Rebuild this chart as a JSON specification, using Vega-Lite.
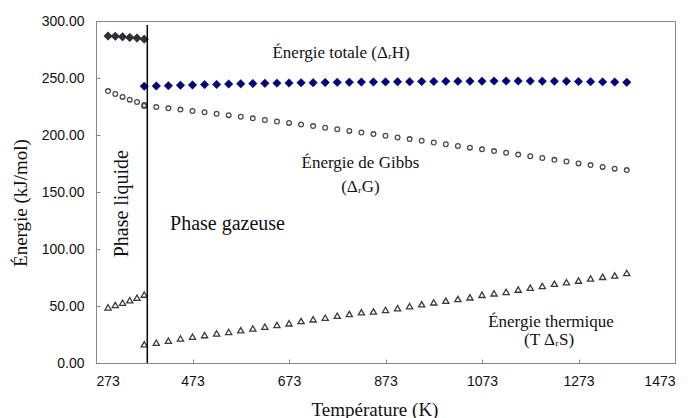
{
  "$schema": "https://vega.github.io/schema/vega-lite/v6.json",
  "width": 579,
  "height": 342,
  "autosize": {"type": "none"},
  "padding": {"left": 96, "top": 21, "right": 16, "bottom": 55},
  "background": "white",
  "config": {
    "view": {"stroke": "#868686", "strokeWidth": 1},
    "axis": {
      "grid": false,
      "domainColor": "#868686",
      "tickColor": "#868686",
      "tickSize": -4,
      "labelFont": "Liberation Sans",
      "labelFontSize": 14,
      "labelColor": "#111111",
      "titleFont": "Liberation Serif",
      "titleFontSize": 19,
      "titleFontWeight": "normal",
      "titleColor": "#111111"
    }
  },
  "datasets": {
    "pts": [
      {"T":298,"E":286.8,"q":"H","p":"L"},{"T":313,"E":286.6,"q":"H","p":"L"},{"T":328,"E":286.1,"q":"H","p":"L"},{"T":343,"E":285.6,"q":"H","p":"L"},{"T":358,"E":285.0,"q":"H","p":"L"},{"T":373,"E":284.1,"q":"H","p":"L"},
      {"T":298,"E":238.5,"q":"G","p":"L"},{"T":313,"E":236.0,"q":"G","p":"L"},{"T":328,"E":233.4,"q":"G","p":"L"},{"T":343,"E":231.0,"q":"G","p":"L"},{"T":358,"E":228.9,"q":"G","p":"L"},{"T":373,"E":226.3,"q":"G","p":"L"},
      {"T":298,"E":48.8,"q":"S","p":"L"},{"T":313,"E":50.9,"q":"S","p":"L"},{"T":328,"E":52.9,"q":"S","p":"L"},{"T":343,"E":55.1,"q":"S","p":"L"},{"T":358,"E":57.3,"q":"S","p":"L"},{"T":373,"E":60.0,"q":"S","p":"L"},
      {"T":373,"E":242.8,"q":"H","p":"G"},{"T":398,"E":243.0,"q":"H","p":"G"},{"T":423,"E":243.3,"q":"H","p":"G"},{"T":448,"E":243.6,"q":"H","p":"G"},{"T":473,"E":243.9,"q":"H","p":"G"},{"T":498,"E":244.2,"q":"H","p":"G"},{"T":523,"E":244.4,"q":"H","p":"G"},{"T":548,"E":244.7,"q":"H","p":"G"},{"T":573,"E":244.9,"q":"H","p":"G"},{"T":598,"E":245.1,"q":"H","p":"G"},{"T":623,"E":245.3,"q":"H","p":"G"},{"T":648,"E":245.5,"q":"H","p":"G"},{"T":673,"E":245.6,"q":"H","p":"G"},{"T":698,"E":245.8,"q":"H","p":"G"},{"T":723,"E":245.9,"q":"H","p":"G"},{"T":748,"E":246.1,"q":"H","p":"G"},{"T":773,"E":246.2,"q":"H","p":"G"},{"T":798,"E":246.3,"q":"H","p":"G"},{"T":823,"E":246.4,"q":"H","p":"G"},{"T":848,"E":246.5,"q":"H","p":"G"},{"T":873,"E":246.6,"q":"H","p":"G"},{"T":898,"E":246.7,"q":"H","p":"G"},{"T":923,"E":246.8,"q":"H","p":"G"},{"T":948,"E":246.9,"q":"H","p":"G"},{"T":973,"E":247.0,"q":"H","p":"G"},{"T":998,"E":247.1,"q":"H","p":"G"},{"T":1023,"E":247.1,"q":"H","p":"G"},{"T":1048,"E":247.2,"q":"H","p":"G"},{"T":1073,"E":247.2,"q":"H","p":"G"},{"T":1098,"E":247.3,"q":"H","p":"G"},{"T":1123,"E":247.3,"q":"H","p":"G"},{"T":1148,"E":247.3,"q":"H","p":"G"},{"T":1173,"E":247.3,"q":"H","p":"G"},{"T":1198,"E":247.2,"q":"H","p":"G"},{"T":1223,"E":247.2,"q":"H","p":"G"},{"T":1248,"E":247.1,"q":"H","p":"G"},{"T":1273,"E":246.9,"q":"H","p":"G"},{"T":1298,"E":246.8,"q":"H","p":"G"},{"T":1323,"E":246.6,"q":"H","p":"G"},{"T":1348,"E":246.4,"q":"H","p":"G"},{"T":1373,"E":246.2,"q":"H","p":"G"},
      {"T":373,"E":225.4,"q":"G","p":"G"},{"T":398,"E":224.5,"q":"G","p":"G"},{"T":423,"E":223.4,"q":"G","p":"G"},{"T":448,"E":222.3,"q":"G","p":"G"},{"T":473,"E":221.1,"q":"G","p":"G"},{"T":498,"E":219.9,"q":"G","p":"G"},{"T":523,"E":218.7,"q":"G","p":"G"},{"T":548,"E":217.4,"q":"G","p":"G"},{"T":573,"E":216.0,"q":"G","p":"G"},{"T":598,"E":214.6,"q":"G","p":"G"},{"T":623,"E":213.2,"q":"G","p":"G"},{"T":648,"E":211.9,"q":"G","p":"G"},{"T":673,"E":210.6,"q":"G","p":"G"},{"T":698,"E":209.2,"q":"G","p":"G"},{"T":723,"E":207.8,"q":"G","p":"G"},{"T":748,"E":206.4,"q":"G","p":"G"},{"T":773,"E":205.0,"q":"G","p":"G"},{"T":798,"E":203.6,"q":"G","p":"G"},{"T":823,"E":202.2,"q":"G","p":"G"},{"T":848,"E":200.8,"q":"G","p":"G"},{"T":873,"E":199.3,"q":"G","p":"G"},{"T":898,"E":197.8,"q":"G","p":"G"},{"T":923,"E":196.4,"q":"G","p":"G"},{"T":948,"E":194.9,"q":"G","p":"G"},{"T":973,"E":193.4,"q":"G","p":"G"},{"T":998,"E":191.9,"q":"G","p":"G"},{"T":1023,"E":190.4,"q":"G","p":"G"},{"T":1048,"E":188.9,"q":"G","p":"G"},{"T":1073,"E":187.4,"q":"G","p":"G"},{"T":1098,"E":185.9,"q":"G","p":"G"},{"T":1123,"E":184.4,"q":"G","p":"G"},{"T":1148,"E":182.8,"q":"G","p":"G"},{"T":1173,"E":181.3,"q":"G","p":"G"},{"T":1198,"E":179.8,"q":"G","p":"G"},{"T":1223,"E":178.2,"q":"G","p":"G"},{"T":1248,"E":176.7,"q":"G","p":"G"},{"T":1273,"E":175.1,"q":"G","p":"G"},{"T":1298,"E":173.6,"q":"G","p":"G"},{"T":1323,"E":172.0,"q":"G","p":"G"},{"T":1348,"E":170.5,"q":"G","p":"G"},{"T":1373,"E":169.2,"q":"G","p":"G"},
      {"T":373,"E":16.4,"q":"S","p":"G"},{"T":398,"E":17.8,"q":"S","p":"G"},{"T":423,"E":19.6,"q":"S","p":"G"},{"T":448,"E":21.6,"q":"S","p":"G"},{"T":473,"E":23.1,"q":"S","p":"G"},{"T":498,"E":24.5,"q":"S","p":"G"},{"T":523,"E":26.0,"q":"S","p":"G"},{"T":548,"E":27.3,"q":"S","p":"G"},{"T":573,"E":28.7,"q":"S","p":"G"},{"T":598,"E":30.3,"q":"S","p":"G"},{"T":623,"E":31.9,"q":"S","p":"G"},{"T":648,"E":33.3,"q":"S","p":"G"},{"T":673,"E":34.8,"q":"S","p":"G"},{"T":698,"E":36.8,"q":"S","p":"G"},{"T":723,"E":38.3,"q":"S","p":"G"},{"T":748,"E":39.8,"q":"S","p":"G"},{"T":773,"E":41.5,"q":"S","p":"G"},{"T":798,"E":43.0,"q":"S","p":"G"},{"T":823,"E":44.5,"q":"S","p":"G"},{"T":848,"E":45.2,"q":"S","p":"G"},{"T":873,"E":46.6,"q":"S","p":"G"},{"T":898,"E":48.1,"q":"S","p":"G"},{"T":923,"E":49.9,"q":"S","p":"G"},{"T":948,"E":51.5,"q":"S","p":"G"},{"T":973,"E":53.2,"q":"S","p":"G"},{"T":998,"E":54.6,"q":"S","p":"G"},{"T":1023,"E":56.1,"q":"S","p":"G"},{"T":1048,"E":57.6,"q":"S","p":"G"},{"T":1073,"E":59.8,"q":"S","p":"G"},{"T":1098,"E":61.1,"q":"S","p":"G"},{"T":1123,"E":62.4,"q":"S","p":"G"},{"T":1148,"E":64.4,"q":"S","p":"G"},{"T":1173,"E":66.0,"q":"S","p":"G"},{"T":1198,"E":67.6,"q":"S","p":"G"},{"T":1223,"E":69.5,"q":"S","p":"G"},{"T":1248,"E":70.9,"q":"S","p":"G"},{"T":1273,"E":72.3,"q":"S","p":"G"},{"T":1298,"E":74.2,"q":"S","p":"G"},{"T":1323,"E":75.6,"q":"S","p":"G"},{"T":1348,"E":76.8,"q":"S","p":"G"},{"T":1373,"E":79.0,"q":"S","p":"G"}
    ],
    "line": [{"T": 379.3, "E": 0, "E2": 296.5}],
    "notes": [
      {"T": 781, "E": 271.5, "t": "Énergie totale (ΔᵣH)", "k": "a"},
      {"T": 821, "E": 175.7, "t": "Énergie de Gibbs", "k": "a"},
      {"T": 821, "E": 154.6, "t": "(ΔᵣG)", "k": "a"},
      {"T": 1216, "E": 36.4, "t": "Énergie thermique", "k": "a"},
      {"T": 1212, "E": 19.8, "t": "(T ΔᵣS)", "k": "a"},
      {"T": 426.4, "E": 121.9, "t": "Phase gazeuse", "k": "g"},
      {"T": 327.5, "E": 139.7, "t": "Phase liquide", "k": "l"}
    ]
  },
  "encoding": {
    "x": {
      "field": "T", "type": "quantitative",
      "scale": {"domain": [273, 1473], "nice": false, "zero": false},
      "axis": {"values": [273, 473, 673, 873, 1073, 1273, 1473], "format": "d", "title": "Température (K)", "labelPadding": 15, "titleX": 278.5, "titleY": 52, "titleBaseline": "alphabetic", "titleAnchor": null, "titleAlign": "center"}
    },
    "y": {
      "field": "E", "type": "quantitative",
      "scale": {"domain": [0, 300], "nice": false, "zero": true},
      "axis": {"values": [0, 50, 100, 150, 200, 250, 300], "format": ".2f", "title": "Énergie (kJ/mol)", "labelPadding": 16, "titleX": -76, "titleY": 181.5, "titleBaseline": "middle", "titleAlign": "center", "titleAngle": 270}
    }
  },
  "layer": [
    {
      "data": {"name": "pts"},
      "transform": [{"filter": "datum.q === 'G'"}],
      "mark": {"type": "point", "shape": "circle", "filled": false, "size": 22, "strokeWidth": 1.3, "color": "#4a4a4a", "opacity": 1}
    },
    {
      "data": {"name": "pts"},
      "transform": [{"filter": "datum.q === 'S'"}],
      "mark": {"type": "point", "shape": "triangle-up", "filled": false, "size": 38, "strokeWidth": 1.3, "color": "#3a3a3a", "opacity": 1}
    },
    {
      "data": {"name": "pts"},
      "transform": [{"filter": "datum.q === 'H'"}],
      "mark": {"type": "point", "shape": "diamond", "filled": true, "size": 72, "opacity": 1, "stroke": "#1a1a3a", "strokeWidth": 0.6},
      "encoding": {
        "color": {"field": "p", "type": "nominal", "scale": {"domain": ["L", "G"], "range": ["#303030", "#000080"]}, "legend": null}
      }
    },
    {
      "data": {"name": "line"},
      "mark": {"type": "rule", "color": "#000000", "strokeWidth": 1.5},
      "encoding": {"y2": {"field": "E2"}}
    },
    {
      "data": {"name": "notes"},
      "transform": [{"filter": "datum.k === 'a'"}],
      "mark": {"type": "text", "font": "Liberation Serif", "fontSize": 17, "align": "center", "baseline": "middle", "color": "#111111"},
      "encoding": {"text": {"field": "t"}}
    },
    {
      "data": {"name": "notes"},
      "transform": [{"filter": "datum.k === 'g'"}],
      "mark": {"type": "text", "font": "Liberation Serif", "fontSize": 20, "align": "left", "baseline": "middle", "color": "#111111"},
      "encoding": {"text": {"field": "t"}}
    },
    {
      "data": {"name": "notes"},
      "transform": [{"filter": "datum.k === 'l'"}],
      "mark": {"type": "text", "font": "Liberation Serif", "fontSize": 20, "align": "center", "baseline": "middle", "angle": 270, "color": "#111111"},
      "encoding": {"text": {"field": "t"}}
    }
  ]
}
